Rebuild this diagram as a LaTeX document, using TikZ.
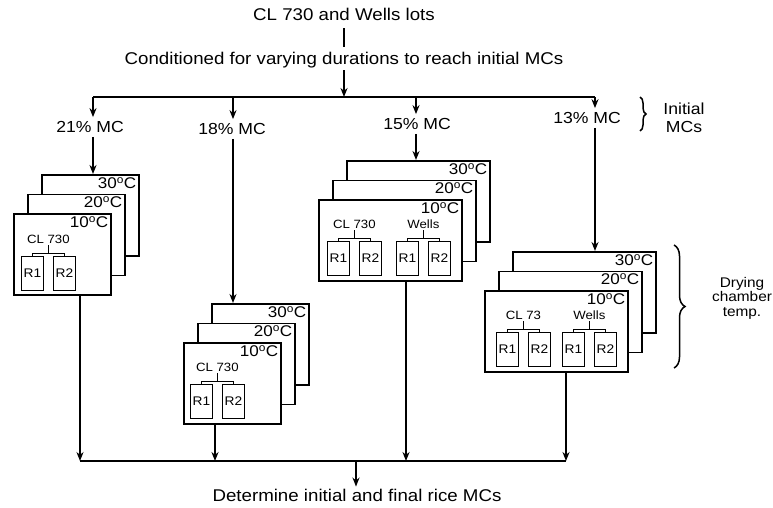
\documentclass[tikz,border=0pt]{standalone}
\usepackage{fontspec}
\setmainfont{Liberation Sans}[FakeStretch=1.1]
\usetikzlibrary{arrows.meta,positioning,calc,decorations.pathreplacing}

\begin{document}
\begin{tikzpicture}[x=1pt,y=-1pt,
    txt/.style={inner sep=2pt,font=\fontsize{17}{20}\selectfont},
    mc/.style={inner sep=4pt,font=\fontsize{16}{19}\selectfont},
    layer/.style={draw,fill=white,line width=1.5pt,minimum height=81pt,inner sep=0pt,anchor=north west},
    tlabel/.style={label={[anchor=north east,inner sep=3pt,font=\fontsize{15.5}{17}\selectfont]north east:#1\textsuperscript{o}C}},
    rbox/.style={draw,line width=0.8pt,minimum width=22pt,minimum height=34pt,inner sep=0pt,anchor=north west,font=\fontsize{12.5}{14}\selectfont},
    lot/.style={inner sep=1pt,anchor=south,font=\fontsize{12}{13}\selectfont},
    tie/.style={line width=0.8pt},
    bus/.style={line width=2.6pt},
    arrow/.style={-{Stealth[length=9pt,width=7pt]},line width=2pt},
    curly/.style={decorate,decoration={brace,amplitude=#1},line width=1.5pt},
    side/.style={align=center}]
  \useasboundingbox (0,0) rectangle (773,508);

  % top of the flow
  \node[txt] (lots) at (344,14) {CL 730 and Wells lots};
  \node[txt] (cond) at (344,60) {Conditioned for varying durations to reach initial MCs};
  \draw[line width=2.2pt] ([yshift=-6pt]lots.south) -- ([yshift=3pt]lots.south |- cond.north);

  \coordinate (t1) at (93,97);
  \coordinate (t2) at (233,97);
  \coordinate (t3) at (416,97);
  \coordinate (t4) at (595,97);
  \draw[arrow] (cond.south) -- (cond.south |- t1);
  \draw[bus] (t1) -- (t4);

  % initial moisture contents
  \node[mc] (mc21) at (90,127) {21\% MC};
  \node[mc] (mc18) at (232,129) {18\% MC};
  \node[mc] (mc15) at (417,124) {15\% MC};
  \node[mc] (mc13) at (587,118) {13\% MC};
  \draw[arrow] (t1) -- (t1 |- mc21.north);
  \draw[arrow] (t2) -- (t2 |- mc18.north);
  \draw[arrow] (t3) -- (t3 |- mc15.north);
  \draw[arrow] (t4) -- (t4 |- mc13.north);

  % drying chamber stacks
  \foreach \t/\k in {30/2,20/1,10/0} {
    \node[layer,minimum width=97pt,tlabel=\t] (a\t) at (13+14*\k,213-19.5*\k) {};
  }
  \foreach \t/\k in {30/2,20/1,10/0} {
    \node[layer,minimum width=97pt,tlabel=\t] (b\t) at (183+14*\k,342-19.5*\k) {};
  }
  \foreach \t/\k in {30/2,20/1,10/0} {
    \node[layer,minimum width=143pt,tlabel=\t] (c\t) at (318+14*\k,199-19.5*\k) {};
  }
  \foreach \t/\k in {30/2,20/1,10/0} {
    \node[layer,minimum width=143pt,tlabel=\t] (d\t) at (484+14*\k,290-19.5*\k) {};
  }

  % replicates per lot
  \foreach \n/\x/\y/\lab in {a/21/256/CL 730, b/190/384/CL 730, c/327/241/CL 730,
      cw/396/241/Wells, d/496/332/CL 73, dw/562/332/Wells} {
    \node[rbox] (\n1) at (\x,\y) {R1};
    \node[rbox] (\n2) at (\x+32,\y) {R2};
    \node[lot] (\n-lab) at ($(\n1.north)!0.5!(\n2.north)+(0,-11)$) {\lab};
    \draw[tie] (\n1.north) -- ++(0,-3) -| (\n2.north);
    \draw[tie] (\n-lab.south) -- ++(0,8);
  }

  \draw[arrow] (t1 |- mc21.south) -- (t1 |- a30.north);
  \draw[arrow] (t2 |- mc18.south) -- (t2 |- b30.north);
  \draw[arrow] (t3 |- mc15.south) -- (t3 |- c30.north);
  \draw[arrow] (t4 |- mc13.south) -- (t4 |- d30.north);

  % bottom of the flow
  \coordinate (u1) at (80,461);
  \coordinate (u2) at (215,461);
  \coordinate (u3) at (406,461);
  \coordinate (u4) at (566,461);
  \coordinate (u0) at (356,461);
  \draw[arrow] (a10.south -| u1) -- (u1);
  \draw[arrow] (b10.south -| u2) -- (u2);
  \draw[arrow] (c10.south -| u3) -- (u3);
  \draw[arrow] (d10.south -| u4) -- (u4);
  \draw[bus] (u1) -- (u4);
  \node[txt] (final) at (357,495) {Determine initial and final rice MCs};
  \draw[arrow] (u0) -- (u0 |- final.north);

  % braces on the right
  \draw[curly=6pt] (640,97) -- (640,131);
  \node[side,font=\fontsize{16}{18}\selectfont] (init) at (684,118) {Initial\\MCs};
  \draw[curly=11pt] (674,245) -- (674,368);
  \node[side,font=\fontsize{14}{14.5}\selectfont] (dry) at (742,298) {Drying\\chamber\\temp.};
\end{tikzpicture}
\end{document}
